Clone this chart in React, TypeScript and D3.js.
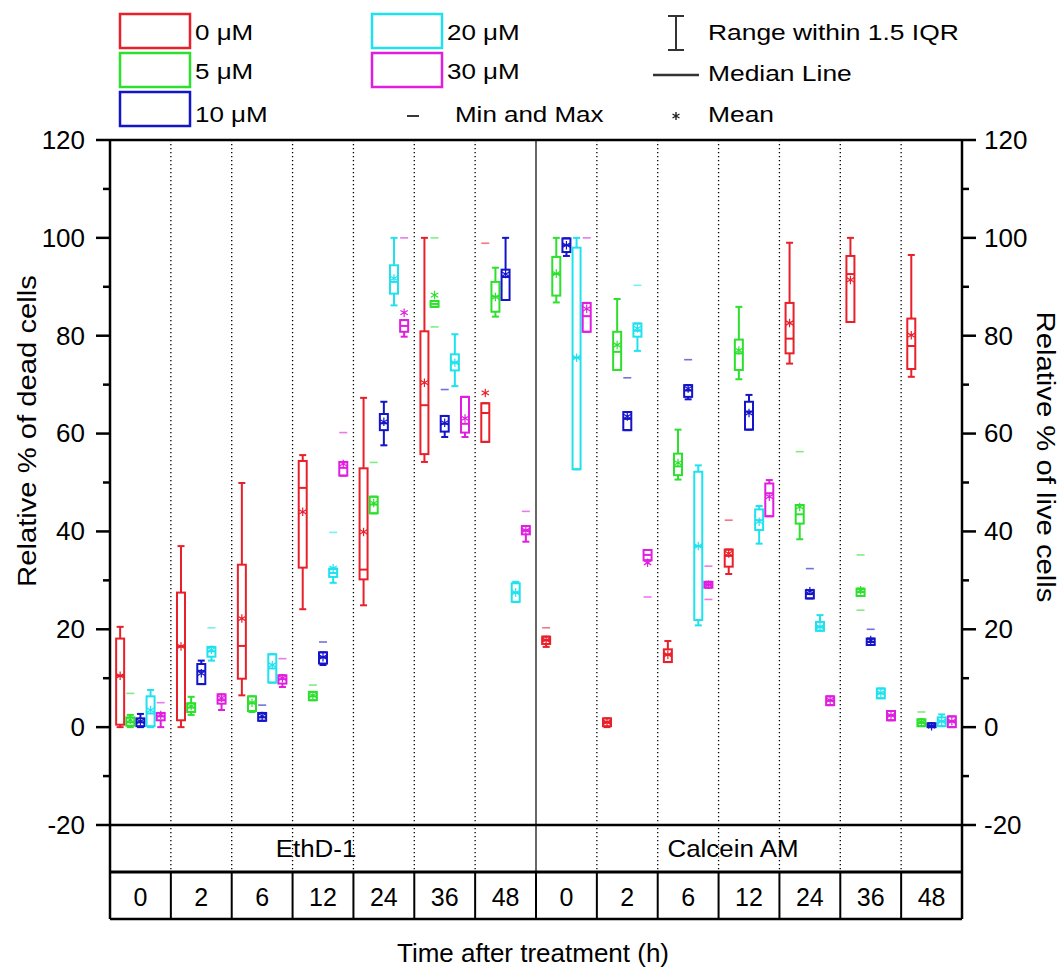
import React, { useRef, useEffect } from 'react';
import * as d3 from 'd3';

const times = ['0', '2', '6', '12', '24', '36', '48'];
const stains = ['EthD-1', 'Calcein AM'];
const concentrations = ['0 μM', '5 μM', '10 μM', '20 μM', '30 μM'];
const colors = ['#e8202a', '#2ee02e', '#1414c8', '#20e2ee', '#e01ee0'];
const majorTicks = [-20, 0, 20, 40, 60, 80, 100, 120];
const minorTicks = [-10, 10, 30, 50, 70, 90, 110];

// one row per time point, one box per concentration:
// [whiskerLow, q1, median, q3, whiskerHigh, mean, min, max]  (min/max only when outside whiskers)
const ethdStats = [
  [[0, 0.5, 10.5, 18.1, 20.5, 10.5, null, null], [0, 0.3, 1, 2, 2.5, 1.5, null, 6.9], [0, 0.2, 1, 1.8, 2.7, 1.2, null, null], [0, 0.2, 2.8, 6.3, 7.6, 3.5, null, null], [0, 1.4, 2.2, 2.9, 2.9, 2.5, null, 5.0]],
  [[0, 1.4, 16.5, 27.5, 37.0, 16.5, null, null], [2.5, 3.1, 4, 4.9, 6.2, 4.3, null, null], [8.8, 8.8, 11.5, 12.9, 13.6, 11, null, null], [13.6, 14.4, 15.5, 16.4, 16.4, 15.8, null, 20.3], [3.5, 4.8, 5.5, 6.7, 6.7, 6.0, null, null]],
  [[6.5, 9.9, 16.6, 33.2, 49.9, 22.2, null, null], [3.1, 3.3, 4.9, 6.3, 6.3, 5.0, null, null], [1.3, 1.3, 2, 2.9, 2.9, 2.3, null, 4.5], [9.1, 9.1, 12, 14.9, 14.9, 12.7, null, null], [8.2, 8.9, 9.8, 10.6, 10.6, 10.0, null, 14.0]],
  [[24.1, 32.6, 48.9, 54.4, 55.6, 44.0, null, null], [5.5, 5.5, 6.3, 7.2, 7.2, 6.5, null, 8.6], [12.7, 13.0, 14.3, 15.3, 15.3, 14.3, null, 17.4], [29.5, 30.7, 31.5, 32.4, 32.4, 32.5, null, 39.8], [51.4, 51.4, 53, 54.2, 54.2, 53.8, null, 60.2]],
  [[24.9, 30.2, 32.2, 52.9, 67.3, 39.9, null, null], [43.7, 43.7, 45.5, 47.1, 47.1, 45.8, null, 54.1], [57.6, 60.7, 62.1, 64.0, 66.5, 62.4, null, null], [86.2, 88.6, 91, 94.4, 100, 91.7, null, null], [79.8, 80.8, 82, 83.2, 83.2, 84.7, null, 100]],
  [[54.2, 55.8, 65.8, 80.9, 100, 70.4, null, null], [85.9, 85.9, 86.5, 87.1, 87.1, 88.3, 81.8, 100], [59.3, 60.4, 62, 63.6, 63.6, 62.2, null, 69.0], [69.7, 72.9, 74.5, 76.2, 80.3, 74.5, null, null], [59.3, 60.2, 62, 67.5, 67.5, 63.1, null, null]],
  [[58.3, 58.3, 64.2, 66.2, 66.2, 68.3, null, 98.9], [83.9, 84.9, 88, 91.0, 93.9, 87.9, null, null], [87.3, 87.3, 92, 93.5, 100, 92.6, null, null], [25.6, 25.6, 27.5, 29.4, 29.7, 27.5, null, null], [37.9, 39.4, 40.2, 41.1, 41.1, 40.2, null, 44.1]],
];

const calceinStats = [
  [[16.4, 17.0, 17.8, 18.5, 18.5, 17.8, null, 20.3], [86.8, 88.2, 92.6, 96.1, 100, 92.7, null, null], [96.3, 97.1, 98.5, 99.9, 99.9, 98.5, null, null], [52.7, 52.7, 75.5, 98.0, 100, 75.5, null, null], [80.8, 80.8, 84, 86.7, 86.7, 85.5, null, 100]],
  [[0, 0.2, 1, 1.8, 1.8, 1, null, null], [73, 73, 76.7, 80.8, 87.5, 78.1, null, null], [60.7, 60.7, 63, 64.4, 64.4, 63.5, null, 71.4], [76.9, 79.8, 81, 82.5, 82.5, 81.5, null, 90.3], [34.1, 34.1, 35.2, 36.2, 36.2, 33.6, 26.6, null]],
  [[13.3, 13.3, 14.8, 15.9, 17.6, 14.8, null, null], [50.6, 51.5, 53.3, 55.9, 60.8, 54, null, null], [67.0, 67.5, 68.8, 69.9, 69.9, 69.2, null, 75.1], [20.8, 21.9, 37.0, 52.2, 53.5, 37.0, null, null], [28.5, 28.5, 29.1, 29.7, 29.7, 29.1, 26.1, 32.9]],
  [[31.3, 32.8, 35, 36.3, 36.3, 35.5, null, 42.3], [71.1, 73, 76.4, 79.2, 85.9, 77, null, null], [60.8, 60.8, 64.5, 66.5, 67.9, 64.2, null, null], [37.5, 40.3, 42.3, 44.5, 45.2, 42, null, null], [43.1, 43.1, 47.8, 49.8, 50.5, 47.1, null, null]],
  [[74.3, 76.4, 79.4, 86.7, 99.0, 82.6, null, null], [38.4, 41.6, 43.5, 45.4, 45.4, 45.0, null, 56.3], [26.3, 26.3, 27.2, 28.0, 28.0, 27.8, null, 32.4], [19.7, 19.7, 20.5, 21.5, 22.9, 20.5, null, null], [4.5, 4.5, 5.4, 6.3, 6.3, 5.5, null, null]],
  [[82.8, 82.8, 92.6, 96.3, 100, 91.4, null, null], [26.8, 26.8, 27.6, 28.3, 28.3, 28.0, 23.9, 35.2], [16.8, 16.8, 17.4, 18.1, 18.1, 17.8, null, 20.0], [5.9, 5.9, 6.9, 7.9, 7.9, 7.0, null, null], [1.4, 1.4, 2.4, 3.3, 3.3, 2.4, null, null]],
  [[71.6, 73.2, 77.9, 83.5, 96.5, 80.1, null, null], [0.2, 0.2, 0.9, 1.6, 1.6, 1.0, null, 3.1], [0, 0, 0.3, 0.8, 0.8, 0.2, null, null], [0.2, 0.2, 1.2, 2.0, 2.6, 1.2, null, null], [0, 0, 1.2, 2.2, 2.2, 1.2, null, null]],
];

const FONT = '"Liberation Sans", Arial, Helvetica, sans-serif';

function BoxChart() {
  const svgRef = useRef<SVGSVGElement>(null);

  useEffect(() => {
    document.body.style.margin = '0';
    const svg = d3.select(svgRef.current);
    svg.selectAll('*').remove();

    const left = 110, right = 962, top = 140, plotBottom = 825;
    const catBottom = 872, timeBottom = 919;

    const columns = stains.flatMap(s => times.map(t => `${s}|${t}`));
    const x = d3.scaleBand().domain(columns).range([left, right]).padding(0);
    const bw = x.bandwidth();
    const y = d3.scaleLinear().domain([-20, 120]).range([plotBottom, top]);

    const text = (g, px, py, str, size, anchor = 'start', sx = 1, rot = 0) =>
      g.append('text')
        .attr('transform', `translate(${px},${py}) rotate(${rot}) scale(${sx},1)`)
        .attr('text-anchor', anchor)
        .attr('dominant-baseline', 'central')
        .attr('font-family', FONT)
        .attr('font-size', size)
        .attr('fill', '#000')
        .text(str);

    // separators: dotted in plot + stain row, solid in the time row
    columns.forEach((c, i) => {
      if (i === 0) return;
      const cx = x(c);
      if (i === times.length) {
        svg.append('line').attr('x1', cx).attr('x2', cx).attr('y1', top).attr('y2', catBottom)
          .attr('stroke', '#000').attr('stroke-width', 1.2);
      } else {
        svg.append('line').attr('x1', cx).attr('x2', cx).attr('y1', top).attr('y2', catBottom)
          .attr('stroke', '#000').attr('stroke-width', 1.3).attr('stroke-dasharray', '1.3,2.7');
      }
      svg.append('line').attr('x1', cx).attr('x2', cx).attr('y1', catBottom).attr('y2', timeBottom)
        .attr('stroke', '#000').attr('stroke-width', 2);
    });

    // boxes
    const mean = d3.symbol(d3.symbolAsterisk, 50);
    stains.forEach((s, si) => {
      const stats = si === 0 ? ethdStats : calceinStats;
      times.forEach((t, ti) => {
        const x0 = x(`${s}|${t}`);
        const inner = d3.scalePoint().domain(concentrations).range([x0, x0 + bw]).padding(1);
        stats[ti].forEach((b, ci) => {
          const [lo, q1, med, q3, hi, mu, mn, mx] = b;
          const cx = inner(concentrations[ci]);
          const col = colors[ci];
          const g = svg.append('g').attr('stroke', col).attr('fill', 'none');
          const bwid = 8, cap = 7;
          g.append('line').attr('x1', cx).attr('x2', cx).attr('y1', y(hi)).attr('y2', y(q3)).attr('stroke-width', 2);
          g.append('line').attr('x1', cx).attr('x2', cx).attr('y1', y(q1)).attr('y2', y(lo)).attr('stroke-width', 2);
          g.append('line').attr('x1', cx - cap / 2).attr('x2', cx + cap / 2).attr('y1', y(hi)).attr('y2', y(hi)).attr('stroke-width', 2);
          g.append('line').attr('x1', cx - cap / 2).attr('x2', cx + cap / 2).attr('y1', y(lo)).attr('y2', y(lo)).attr('stroke-width', 2);
          g.append('rect').attr('x', cx - bwid / 2).attr('y', y(q3)).attr('width', bwid)
            .attr('height', Math.max(1, y(q1) - y(q3))).attr('stroke-width', 2);
          g.append('line').attr('x1', cx - bwid / 2).attr('x2', cx + bwid / 2).attr('y1', y(med)).attr('y2', y(med)).attr('stroke-width', 2);
          g.append('path').attr('d', mean()).attr('transform', `translate(${cx},${y(mu)})`).attr('stroke-width', 1.2);
          [mn, mx].forEach(v => {
            if (v == null) return;
            g.append('line').attr('x1', cx - 4).attr('x2', cx + 4).attr('y1', y(v)).attr('y2', y(v))
              .attr('stroke-width', 1.6).attr('stroke-opacity', 0.6);
          });
        });
      });
    });

    // frame
    const frame = (x1, y1, x2, y2, w) =>
      svg.append('line').attr('x1', x1).attr('y1', y1).attr('x2', x2).attr('y2', y2)
        .attr('stroke', '#000').attr('stroke-width', w);
    frame(left, top, right, top, 2.5);
    frame(left, plotBottom, right, plotBottom, 2.5);
    frame(left, catBottom, right, catBottom, 3);
    frame(left, timeBottom, right, timeBottom, 2.5);
    frame(left, top, left, timeBottom, 2.5);
    frame(right, top, right, timeBottom, 2.5);

    // y ticks on both sides
    majorTicks.forEach(v => {
      frame(left - 14, y(v), left, y(v), 2.5);
      frame(right, y(v), right + 14, y(v), 2.5);
      text(svg, left - 25, y(v), String(v), 25, 'end', 1.04);
      text(svg, right + 22, y(v), String(v), 25, 'start', 1.04);
    });
    minorTicks.forEach(v => {
      frame(left - 7, y(v), left, y(v), 2.5);
      frame(right, y(v), right + 7, y(v), 2.5);
    });

    // stain and time rows
    text(svg, 316, (plotBottom + catBottom) / 2, stains[0], 24, 'middle', 1.08);
    text(svg, 733, (plotBottom + catBottom) / 2, stains[1], 24, 'middle', 1.08);
    columns.forEach(c => {
      text(svg, x(c) + bw / 2, (catBottom + timeBottom) / 2 + 1, c.split('|')[1], 25, 'middle');
    });

    // axis titles
    text(svg, 27, 431, 'Relative % of dead cells', 25, 'middle', 1.17, -90);
    text(svg, 1046, 457, 'Relative % of live cells', 25, 'middle', 1.17, 90);
    text(svg, 533, 953, 'Time after treatment (h)', 25, 'middle', 1.04);

    // legend
    const lg = svg.append('g');
    const legendBoxes = [
      { x: 120, y: 14 }, { x: 120, y: 53 }, { x: 120, y: 92 }, { x: 372, y: 14 }, { x: 372, y: 53 },
    ];
    concentrations.forEach((c, i) => {
      const p = legendBoxes[i];
      lg.append('rect').attr('x', p.x).attr('y', p.y).attr('width', 70).attr('height', 34)
        .attr('fill', 'none').attr('stroke', colors[i]).attr('stroke-width', 2.5);
      text(lg, p.x + 75, p.y + 18 + (i === 2 ? 4 : 0), c, 22, 'start', 1.18);
    });
    lg.append('line').attr('x1', 407).attr('x2', 419).attr('y1', 116).attr('y2', 116)
      .attr('stroke', '#222').attr('stroke-width', 1.8);
    text(lg, 455, 114, 'Min and Max', 22, 'start', 1.18);

    lg.append('line').attr('x1', 676).attr('x2', 676).attr('y1', 16).attr('y2', 50).attr('stroke', '#333').attr('stroke-width', 2);
    lg.append('line').attr('x1', 668).attr('x2', 684).attr('y1', 16).attr('y2', 16).attr('stroke', '#333').attr('stroke-width', 2);
    lg.append('line').attr('x1', 668).attr('x2', 684).attr('y1', 50).attr('y2', 50).attr('stroke', '#333').attr('stroke-width', 2);
    text(lg, 708, 32, 'Range within 1.5 IQR', 22, 'start', 1.2);
    lg.append('line').attr('x1', 653).attr('x2', 699).attr('y1', 75).attr('y2', 75).attr('stroke', '#333').attr('stroke-width', 2.5);
    text(lg, 708, 73, 'Median Line', 22, 'start', 1.2);
    lg.append('path').attr('d', d3.symbol(d3.symbolAsterisk, 45)()).attr('transform', 'translate(676,116)')
      .attr('stroke', '#222').attr('fill', 'none').attr('stroke-width', 1.4);
    text(lg, 708, 114, 'Mean', 22, 'start', 1.2);
  }, []);

  return <svg ref={svgRef} width={1064} height={968} style={{ display: 'block', background: '#fff' }} />;
}

export default function App() {
  return <BoxChart />;
}
